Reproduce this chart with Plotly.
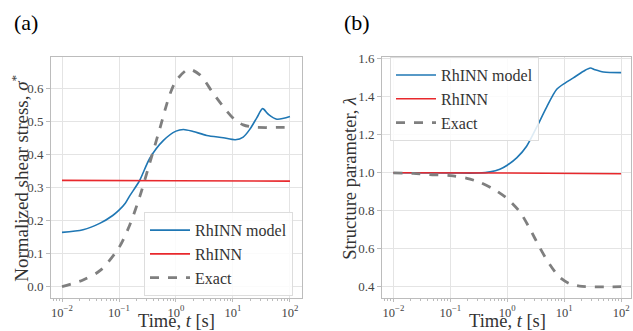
import plotly.graph_objects as go

# ---------------- data ----------------
# (a) normalized shear stress
t_sig_model = [0.01, 0.0234, 0.0468, 0.0776, 0.1, 0.129, 0.155, 0.229, 0.347, 0.603, 1.0, 1.35,
               2.0, 3.47, 6.76, 11.0, 15.1, 20.0, 26.3, 33.1, 41.7, 58.9, 100.0]
sig_model = [0.164, 0.172, 0.192, 0.215, 0.231, 0.252, 0.275, 0.320, 0.388, 0.442, 0.470, 0.475,
             0.469, 0.457, 0.450, 0.444, 0.452, 0.477, 0.511, 0.538, 0.521, 0.506, 0.514]

t_sig_rhinn = [0.01, 1.0, 100.0]
sig_rhinn = [0.321, 0.320, 0.319]

t_sig_exact = [0.01, 0.0234, 0.0468, 0.1, 0.155, 0.234, 0.347, 0.525, 0.776, 1.02, 1.66, 2.63,
               4.47, 7.76, 11.0, 15.1, 22.9, 100.0]
sig_exact = [0.0, 0.020, 0.049, 0.118, 0.187, 0.275, 0.374, 0.480, 0.580, 0.624, 0.657, 0.640,
             0.585, 0.531, 0.503, 0.489, 0.482, 0.482]

# (b) structure parameter
t_lam_model = [0.01, 0.1, 0.316, 0.501, 0.741, 1.0, 1.48, 2.19, 3.31, 4.9, 7.41, 10.5, 14.5,
               21.9, 28.8, 34.7, 49.0, 100.0]
lam_model = [1.0, 0.999, 0.999, 1.005, 1.019, 1.040, 1.080, 1.140, 1.242, 1.345, 1.440, 1.474,
             1.500, 1.535, 1.552, 1.543, 1.531, 1.528]

t_lam_rhinn = [0.01, 1.0, 100.0]
lam_rhinn = [1.0, 0.999, 0.995]

t_lam_exact = [0.01, 0.0224, 0.0437, 0.1, 0.195, 0.331, 0.562, 1.0, 1.66, 2.45, 3.72, 5.5,
               8.32, 12.3, 18.6, 100.0]
lam_exact = [1.0, 0.997, 0.991, 0.985, 0.971, 0.950, 0.916, 0.864, 0.795, 0.710, 0.606, 0.520,
             0.450, 0.417, 0.403, 0.400]

x_tickvals = [0.01, 0.1, 1, 10, 100]
x_ticktext = ["10<sup>\u22122</sup>", "10<sup>\u22121</sup>", "10<sup>0</sup>",
              "10<sup>1</sup>", "10<sup>2</sup>"]
names = ["RhINN model", "RhINN", "Exact"]
x_title = "Time, <i>t</i> [s]"
y_title_a = "Normalized shear stress, <i>\u03c3</i><sup>*</sup>"
y_title_b = "Structure parameter, <i>\u03bb</i>"

# ---------------- style ----------------
W, H = 633, 331
FONT = "Liberation Serif, Times New Roman, serif"
BLUE = "#1f77b4"
RED = "#e8282c"
GREY = "#7f7f7f"
FRAME = "#bcbcbc"
GRID = "#e4e4e4"

minor_vals = [m * 10 ** e for e in range(-3, 3) for m in range(2, 10)]

fig = go.Figure()

def add(x, y, name, color, dash, width, xa, ya, legend):
    fig.add_trace(go.Scatter(
        x=x, y=y, mode="lines", name=name,
        line=dict(color=color, dash=dash, width=width, shape="spline", smoothing=0.8),
        xaxis=xa, yaxis=ya, legend=legend))

add(t_sig_model, sig_model, names[0], BLUE, "solid", 1.6, "x", "y", "legend")
add(t_sig_rhinn, sig_rhinn, names[1], RED, "solid", 1.6, "x", "y", "legend")
add(t_sig_exact, sig_exact, names[2], GREY, "dash", 2.8, "x", "y", "legend")

add(t_lam_model, lam_model, names[0], BLUE, "solid", 1.6, "x2", "y2", "legend2")
add(t_lam_rhinn, lam_rhinn, names[1], RED, "solid", 1.6, "x2", "y2", "legend2")
add(t_lam_exact, lam_exact, names[2], GREY, "dash", 2.8, "x2", "y2", "legend2")

def xaxis(domain, rng, anchor):
    return dict(domain=domain, type="log", range=rng, anchor=anchor,
                tickmode="array", tickvals=x_tickvals, ticktext=x_ticktext,
                ticks="outside", ticklen=3, tickcolor=FRAME,
                tickfont=dict(family=FONT, size=12.5, color="#444"),
                showline=True, mirror=True, linecolor=FRAME, linewidth=1,
                showgrid=True, gridcolor=GRID, gridwidth=1, zeroline=False,
                minor=dict(tickmode="array", tickvals=minor_vals, ticks="outside",
                           ticklen=2, tickcolor=FRAME, showgrid=False))

def yaxis(domain, rng, anchor, dtick):
    return dict(domain=domain, range=rng, anchor=anchor, dtick=dtick, tick0=0,
                tickformat=".1f", ticks="outside", ticklen=4, tickcolor=FRAME,
                tickfont=dict(family=FONT, size=13, color="#444"),
                showline=True, mirror=True, linecolor=FRAME, linewidth=1,
                showgrid=True, gridcolor=GRID, gridwidth=1, zeroline=False)

leg_common = dict(font=dict(family=FONT, size=16, color="#333"),
                  bgcolor="rgba(255,255,255,0.85)", bordercolor="#dddddd",
                  borderwidth=1, xanchor="left", yanchor="top",
                  tracegroupgap=0, itemwidth=40)

def ann(text, x, y, size, color="#333", angle=0, xanchor="center"):
    return dict(text=text, x=x / W, y=1 - y / H, xref="paper", yref="paper",
                xanchor=xanchor, yanchor="middle", showarrow=False, textangle=angle,
                font=dict(family=FONT, size=size, color=color))

fig.update_layout(
    width=W, height=H,
    margin=dict(l=0, r=0, t=0, b=0),
    paper_bgcolor="white", plot_bgcolor="white",
    xaxis=xaxis([0.0806, 0.477], [-2.193, 2.21], "y"),
    yaxis=yaxis([0.103, 0.843], [-0.033, 0.694], "x", 0.1),
    xaxis2=xaxis([0.6035, 0.997], [-2.2, 2.176], "y2"),
    yaxis2=yaxis([0.103, 0.843], [0.343, 1.61], "x2", 0.2),
    legend=dict(x=144 / W, y=1 - 210 / H, **leg_common),
    legend2=dict(x=390 / W, y=1 - 52 / H, **leg_common),
    showlegend=True,
    annotations=[
        ann("(a)", 12, 17, 22, "black", xanchor="left"),
        ann("(b)", 342, 17, 22, "black", xanchor="left"),
        ann(x_title, 176, 321, 18.5),
        ann(x_title, 507, 321, 18.5),
        ann(y_title_a, 20, 176, 19, angle=-90),
        ann(y_title_b, 350, 176, 18.5, angle=-90),
    ],
)

fig.write_html("out.html", config={"displayModeBar": False})

# remove the default page margin so the figure sits at the window origin
with open("out.html", "r", encoding="utf-8") as f:
    html = f.read()
html = html.replace("<body>", '<body style="margin:0;padding:0;overflow:hidden">', 1)
with open("out.html", "w", encoding="utf-8") as f:
    f.write(html)
